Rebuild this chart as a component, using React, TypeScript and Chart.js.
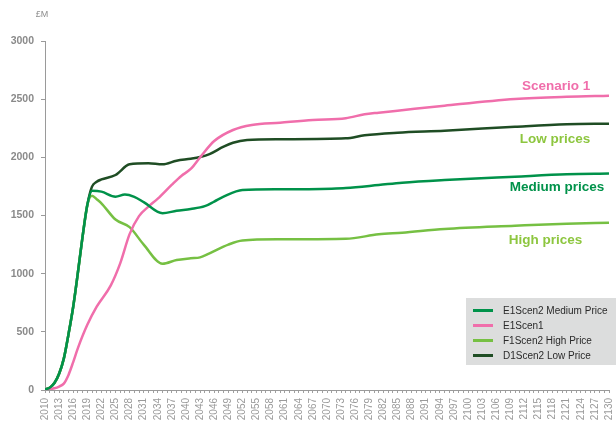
import React, { useEffect, useRef } from "react";
import { Chart, registerables } from "chart.js";

Chart.register(...registerables);

const FONT = "'Liberation Sans', Arial, Helvetica, sans-serif";

// Medium price (E1Scen2)
const mediumYears = [2010, 2011, 2012, 2013, 2014, 2015, 2016, 2017, 2018, 2019, 2020, 2022, 2025, 2027, 2029, 2031, 2035, 2038, 2041, 2044, 2046, 2048, 2052, 2060, 2071, 2074, 2081, 2086, 2095, 2110, 2121, 2130];
const mediumValues = [5, 20, 60, 140, 270, 480, 716, 1010, 1320, 1590, 1712, 1705, 1662, 1680, 1660, 1615, 1519, 1541, 1556, 1580, 1620, 1662, 1719, 1725, 1731, 1736, 1762, 1782, 1805, 1834, 1854, 1860];

// Scenario 1 (E1Scen1)
const scenYears = [2010, 2012, 2013, 2014, 2015, 2016, 2017, 2019, 2021, 2024, 2026, 2028, 2030, 2032, 2034, 2037, 2039, 2041, 2043, 2046, 2050, 2054, 2060, 2067, 2074, 2078, 2081, 2085, 2095, 2110, 2121, 2130];
const scenValues = [0, 15, 30, 55, 130, 240, 360, 560, 716, 900, 1089, 1340, 1495, 1576, 1645, 1765, 1840, 1900, 2000, 2140, 2235, 2278, 2298, 2321, 2336, 2370, 2384, 2401, 2444, 2501, 2521, 2530];

// High price (F1Scen2)
const highYears = [2010, 2011, 2012, 2013, 2014, 2015, 2016, 2017, 2018, 2019, 2020, 2021, 2022, 2025, 2028, 2031, 2035, 2038, 2041, 2043, 2045, 2049, 2052, 2060, 2074, 2081, 2086, 2095, 2110, 2121, 2130];
const highValues = [5, 20, 60, 140, 270, 480, 716, 1010, 1320, 1590, 1670, 1640, 1605, 1465, 1400, 1250, 1085, 1117, 1132, 1140, 1175, 1250, 1285, 1295, 1300, 1338, 1352, 1384, 1412, 1430, 1438];

// Low price (D1Scen2)
const lowYears = [2010, 2011, 2012, 2013, 2014, 2015, 2016, 2017, 2018, 2019, 2020, 2021, 2022, 2025, 2028, 2032, 2035, 2038, 2041, 2043, 2045, 2048, 2050, 2053, 2060, 2074, 2078, 2085, 2095, 2110, 2121, 2130];
const lowValues = [5, 20, 60, 140, 270, 480, 716, 1010, 1320, 1590, 1748, 1790, 1810, 1848, 1940, 1949, 1940, 1971, 1988, 2003, 2028, 2092, 2125, 2148, 2155, 2163, 2190, 2212, 2229, 2263, 2284, 2289];

const seriesLabels = ["E1Scen2 Medium Price", "E1Scen1", "F1Scen2 High Price", "D1Scen2 Low Price"];
const seriesColors = ["#00924a", "#f06eab", "#76c043", "#1f4d24"];

const yTicks = [0, 500, 1000, 1500, 2000, 2500, 3000];

// text annotations, anchored at their right edge in data coordinates
const annotationTexts = ["Scenario 1", "Low prices", "Medium prices", "High prices"];
const annotationYears = [2126, 2126, 2129, 2124.3];
const annotationValues = [2613, 2158, 1741, 1285];
const annotationColors = ["#f06eab", "#8dc63f", "#00924a", "#8dc63f"];

function pts(xs: number[], ys: number[]) {
  return xs.map((x, i) => ({ x, y: ys[i] }));
}

export default function App() {
  const ref = useRef<HTMLCanvasElement | null>(null);

  useEffect(() => {
    if (!ref.current) return;
    const seriesData = [
      pts(mediumYears, mediumValues),
      pts(scenYears, scenValues),
      pts(highYears, highValues),
      pts(lowYears, lowValues),
    ];

    const overlay = {
      id: "overlay",
      afterDraw(chart: any) {
        const ctx = chart.ctx;
        const xs = chart.scales.x;
        const ys = chart.scales.y;
        ctx.save();
        // unit label
        ctx.font = `9px ${FONT}`;
        ctx.fillStyle = "#8c8c8c";
        ctx.textAlign = "center";
        ctx.textBaseline = "middle";
        ctx.fillText("£M", 42, 15);

        // annotations
        ctx.font = `bold 13.5px ${FONT}`;
        ctx.textAlign = "right";
        annotationTexts.forEach((t, i) => {
          ctx.fillStyle = annotationColors[i];
          ctx.fillText(t, xs.getPixelForValue(annotationYears[i]), ys.getPixelForValue(annotationValues[i]));
        });

        // legend box
        ctx.fillStyle = "#dcdddd";
        ctx.fillRect(466, 298, 150, 67);
        ctx.font = `10px ${FONT}`;
        ctx.textAlign = "left";
        chart.data.datasets.forEach((ds: any, i: number) => {
          const y = 310.5 + i * 15;
          ctx.strokeStyle = ds.borderColor;
          ctx.lineWidth = 3;
          ctx.beginPath();
          ctx.moveTo(473, y);
          ctx.lineTo(493, y);
          ctx.stroke();
          ctx.fillStyle = "#2a2a2a";
          ctx.fillText(ds.label, 503, y + 0.5);
        });
        ctx.restore();
      },
    };

    const chart = new Chart(ref.current, {
      type: "line",
      data: {
        datasets: seriesData.map((d, i) => ({
          label: seriesLabels[i],
          data: d,
          borderColor: seriesColors[i],
          backgroundColor: seriesColors[i],
          borderWidth: 2.5,
          pointRadius: 0,
          cubicInterpolationMode: "monotone" as const,
          fill: false,
        })),
      },
      options: {
        animation: false,
        responsive: false,
        maintainAspectRatio: false,
        layout: { padding: { top: 41, right: 0, left: 0, bottom: 0 } },
        plugins: {
          legend: { display: false },
          tooltip: { enabled: false },
        },
        scales: {
          x: {
            type: "linear",
            min: 2010,
            max: 2130,
            afterFit: (s: any) => {
              s.height = 35;
              s.paddingRight = 7;
            },
            ticks: {
              stepSize: 1,
              autoSkip: false,
              minRotation: 90,
              maxRotation: 90,
              padding: 5,
              color: "#9a9a9a",
              font: { family: FONT, size: 10 },
              callback: (v: any) => ((Number(v) - 2010) % 3 === 0 ? String(v) : ""),
            },
            grid: { drawOnChartArea: false, drawTicks: true, tickLength: 3, color: "#a0a0a0" },
            border: { color: "#9a9a9a", width: 1 },
          },
          y: {
            min: 0,
            max: 3000,
            afterFit: (s: any) => {
              s.width = 45;
            },
            afterBuildTicks: (s: any) => {
              s.ticks = yTicks.map((v) => ({ value: v }));
            },
            ticks: {
              padding: 7,
              color: "#8a8a8a",
              font: { family: FONT, size: 10.5, weight: "bold" },
              callback: (v: any) => String(v),
            },
            grid: { drawOnChartArea: false, drawTicks: true, tickLength: 4, color: "#9a9a9a" },
            border: { color: "#9a9a9a", width: 1 },
          },
        },
      },
      plugins: [overlay],
    });
    return () => chart.destroy();
  }, []);

  return (
    <div style={{ position: "absolute", left: 0, top: 0, width: 616, height: 425, background: "#fff" }}>
      <canvas ref={ref} width={616} height={425} style={{ width: 616, height: 425 }} />
    </div>
  );
}
